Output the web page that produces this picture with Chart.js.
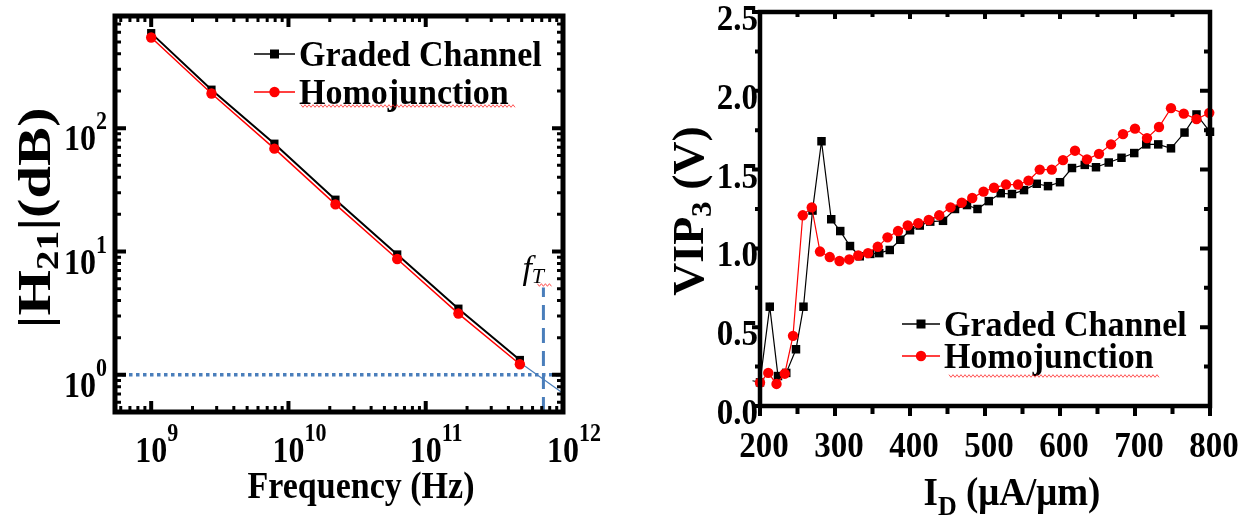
<!DOCTYPE html>
<html>
<head>
<meta charset="utf-8">
<script src="https://cdn.jsdelivr.net/npm/chart.js@4.4.0/dist/chart.umd.min.js"></script>
<style>
  html, body { margin: 0; padding: 0; background: #fff; }
  #wrap { position: relative; width: 1251px; height: 519px; overflow: hidden; }
  canvas { position: absolute; top: 0; }
  #gain { left: 0; }
  #vip { left: 625px; }
</style>
</head>
<body>
<div id="wrap">
  <canvas id="gain" width="625" height="519"></canvas>
  <canvas id="vip" width="626" height="519"></canvas>
</div>
<script>
// ---- left panel: |H21| vs frequency ----
const freqHz    = [1e9, 2.75e9, 7.9e9, 2.2e10, 6.2e10, 1.73e11, 4.85e11];
const h21Graded = [589, 205, 74.8, 26.3, 9.46, 3.44, 1.32];
const h21Homo   = [543, 191, 68.2, 24.1, 8.69, 3.14, 1.22];
const fitFreq   = [4.85e11, 1e12];      // extrapolation to unity gain
const fitH21    = [1.26, 0.71];
const fT        = 7.2e11;
const fTLineTop = 5.1;
const freqExponents = [9, 10, 11, 12];
const h21Exponents  = [0, 1, 2];

// ---- right panel: VIP3 vs drain current ----
const idGraded  = [190, 200, 213, 224, 235, 248, 258, 270, 282, 295, 307, 320, 333, 347, 359, 373, 387,
                   400, 413, 427, 444, 460, 476, 490, 505, 521, 536, 552, 569, 584, 600, 616, 633, 648,
                   665, 682, 699, 715, 731, 748, 766, 782, 800];
const vipGraded = [0.16, 0.15, 0.63, 0.19, 0.21, 0.36, 0.63, 1.24, 1.68, 1.185, 1.11, 1.015, 0.95, 0.965,
                   0.97, 0.99, 1.055, 1.115, 1.145, 1.17, 1.175, 1.25, 1.275, 1.25, 1.30, 1.35, 1.345,
                   1.37, 1.41, 1.395, 1.42, 1.51, 1.53, 1.515, 1.545, 1.575, 1.605, 1.66, 1.66, 1.635,
                   1.735, 1.85, 1.74];
const idHomo    = [200, 211, 222, 233, 244, 257, 269, 280, 293, 306, 319, 331, 344, 357, 370, 384, 397,
                   411, 425, 439, 454, 469, 483, 498, 512, 528, 544, 558, 573, 589, 604, 620, 636, 652,
                   668, 684, 700, 716, 732, 748, 765, 782, 799];
const vipHomo   = [0.148, 0.21, 0.14, 0.205, 0.445, 1.21, 1.26, 0.98, 0.945, 0.92, 0.93, 0.955, 0.97,
                   1.01, 1.07, 1.11, 1.145, 1.16, 1.18, 1.21, 1.26, 1.29, 1.32, 1.36, 1.385, 1.405,
                   1.405, 1.43, 1.50, 1.50, 1.56, 1.62, 1.565, 1.60, 1.66, 1.725, 1.76, 1.70, 1.77,
                   1.89, 1.855, 1.82, 1.86];
const idTicks  = [200, 300, 400, 500, 600, 700, 800];
const vipTicks = ['0.0', '0.5', '1.0', '1.5', '2.0', '2.5'];

const seriesNames = ['Graded Channel', 'Homojunction'];

const SERIF = '"Liberation Serif", "Times New Roman", serif';
const BLUE = '#4a7ebb';
const RED = '#ff0000';

function pts(xs, ys) { return xs.map((x, i) => ({ x: x, y: ys[i] })); }

// draws a run of text pieces (for sub/superscripts)
function richText(ctx, parts, x, y, opt) {
  opt = opt || {};
  ctx.save();
  ctx.translate(x, y);
  if (opt.rotate) ctx.rotate(opt.rotate);
  ctx.scale(opt.sx || 1, opt.sy || 1);
  ctx.textAlign = 'left';
  ctx.textBaseline = 'alphabetic';
  ctx.fillStyle = opt.color || '#000';
  let w = 0;
  parts.forEach(p => {
    ctx.font = (p.style || 'bold') + ' ' + p.size + 'px ' + SERIF;
    w += ctx.measureText(p.t).width;
  });
  let cx = opt.align === 'center' ? -w / 2 : opt.align === 'right' ? -w : 0;
  parts.forEach(p => {
    ctx.font = (p.style || 'bold') + ' ' + p.size + 'px ' + SERIF;
    ctx.fillText(p.t, cx, p.dy || 0);
    cx += ctx.measureText(p.t).width;
  });
  ctx.restore();
}

function wavy(ctx, x0, x1, y) {
  ctx.save();
  ctx.strokeStyle = 'rgba(255,40,40,0.8)';
  ctx.lineWidth = 1;
  ctx.beginPath();
  for (let x = x0, k = 0; x <= x1; x += 2, k++) {
    const yy = y + (k % 2 ? 1.3 : -1.3);
    if (k === 0) ctx.moveTo(x, yy); else ctx.lineTo(x, yy);
  }
  ctx.stroke();
  ctx.restore();
}

function byLabel(chart, name) {
  return chart.data.datasets.find(d => d.label === name);
}

function legendRow(ctx, ds, x0, x1, y, text) {
  ctx.save();
  ctx.strokeStyle = ds.borderColor;
  ctx.lineWidth = 1.5;
  ctx.beginPath(); ctx.moveTo(x0, y); ctx.lineTo(x1, y); ctx.stroke();
  ctx.fillStyle = ds.backgroundColor;
  const cx = (x0 + x1) / 2;
  if (ds.pointStyle === 'rect') {
    ctx.fillRect(cx - 4.5, y - 4.5, 9, 9);
  } else {
    ctx.beginPath(); ctx.arc(cx, y, 5.2, 0, Math.PI * 2); ctx.fill();
  }
  ctx.restore();
  richText(ctx, [{ t: text, size: 34 }], x1 + 4, y + 12, { sy: 1.08 });
}

// ---------------- left chart ----------------
const gainDecor = {
  id: 'gainDecor',
  afterDraw(chart) {
    const ctx = chart.ctx;
    const a = chart.chartArea;
    const xs = chart.scales.x, ys = chart.scales.y;
    ctx.save();
    ctx.strokeStyle = '#000';
    ctx.lineWidth = 5;
    ctx.strokeRect(a.left, a.top, a.right - a.left, a.bottom - a.top);

    // log ticks, inward on all four sides
    function logTicks(scale, cb) {
      const lo = Math.floor(Math.log10(scale.min)), hi = Math.ceil(Math.log10(scale.max));
      for (let d = lo; d <= hi; d++) {
        for (let m = 1; m <= 9; m++) {
          const v = m * Math.pow(10, d);
          if (v < scale.min * 1.001 || v > scale.max * 0.999) continue;
          cb(scale.getPixelForValue(v), m === 1);
        }
      }
    }
    ctx.lineCap = 'butt';
    logTicks(xs, (px, major) => {
      const len = major ? 11 : 6;
      ctx.lineWidth = major ? 4 : 3;
      ctx.beginPath();
      ctx.moveTo(px, a.bottom); ctx.lineTo(px, a.bottom - len);
      ctx.moveTo(px, a.top); ctx.lineTo(px, a.top + len);
      ctx.stroke();
    });
    logTicks(ys, (py, major) => {
      const len = major ? 11 : 6;
      ctx.lineWidth = major ? 4 : 3;
      ctx.beginPath();
      ctx.moveTo(a.left, py); ctx.lineTo(a.left + len, py);
      ctx.moveTo(a.right, py); ctx.lineTo(a.right - len, py);
      ctx.stroke();
    });
    ctx.restore();

    // tick labels 10^n
    freqExponents.forEach(e => {
      const px = xs.getPixelForValue(Math.pow(10, e));
      ctx.save();
      ctx.font = 'bold 32px ' + SERIF;
      const w = ctx.measureText('10').width;
      ctx.restore();
      richText(ctx, [{ t: '10', size: 32 }, { t: String(e), size: 22, dy: -19 }],
        px - w / 2, a.bottom + 50, { sy: 1.1 });
    });
    h21Exponents.forEach(e => {
      const py = ys.getPixelForValue(Math.pow(10, e));
      richText(ctx, [{ t: '10', size: 32 }, { t: String(e), size: 22, dy: -19 }],
        a.left - 8, py + 22, { align: 'right', sy: 1.1 });
    });

    // axis titles
    richText(ctx, [{ t: 'Frequency (Hz)', size: 34 }], 361, 498, { align: 'center', sy: 1.1 });
    richText(ctx, [{ t: '|H', size: 46 }, { t: '21', size: 31, dy: 8 }, { t: '|(dB)', size: 46 }],
      50, 218, { align: 'center', rotate: -Math.PI / 2, sx: 1.27 });

    // f_T marker label
    const fx = xs.getPixelForValue(fT);
    richText(ctx, [{ t: 'f', size: 34, style: 'italic' }, { t: 'T', size: 22, style: 'italic', dy: 4 }],
      fx - 21, 279, {});
    wavy(ctx, fx - 6, fx + 9, 285);

    // legend
    legendRow(ctx, byLabel(chart, seriesNames[0]), 254, 295, 54, seriesNames[0]);
    legendRow(ctx, byLabel(chart, seriesNames[1]), 254, 295, 92, seriesNames[1]);
    wavy(ctx, 301, 515, 106);
  }
};

new Chart(document.getElementById('gain'), {
  type: 'line',
  data: {
    datasets: [
      { label: seriesNames[1], data: pts(freqHz, h21Homo), borderColor: RED, backgroundColor: RED,
        borderWidth: 1.5, pointStyle: 'circle', pointRadius: 5.2, pointBorderWidth: 0 },
      { label: seriesNames[0], data: pts(freqHz, h21Graded), borderColor: '#000', backgroundColor: '#000',
        borderWidth: 2, pointStyle: 'rect', pointRadius: 5.8, pointBorderWidth: 0 },
      { label: 'fit', data: pts(fitFreq, fitH21), borderColor: BLUE, borderWidth: 1.2, pointRadius: 0 },
      { label: 'unity', data: [{ x: 5.45e8, y: 1 }, { x: 1e12, y: 1 }], borderColor: BLUE,
        borderWidth: 3.5, borderDash: [3.5, 3.5], pointRadius: 0 },
      { label: 'fT', data: [{ x: fT, y: 0.5 }, { x: fT, y: fTLineTop }], borderColor: BLUE,
        borderWidth: 3, borderDash: [15, 8], pointRadius: 0 }
    ]
  },
  options: {
    responsive: false,
    animation: false,
    devicePixelRatio: 1,
    layout: { padding: { left: 115, right: 62, top: 16, bottom: 107 } },
    plugins: { legend: { display: false }, tooltip: { enabled: false } },
    elements: { line: { tension: 0 } },
    scales: {
      x: { type: 'logarithmic', min: 5.45e8, max: 1e12, display: false },
      y: { type: 'logarithmic', min: 0.5, max: 811, display: false }
    }
  },
  plugins: [gainDecor]
});

// ---------------- right chart ----------------
const vipDecor = {
  id: 'vipDecor',
  afterDraw(chart) {
    const ctx = chart.ctx;
    const a = chart.chartArea;
    const xs = chart.scales.x, ys = chart.scales.y;
    ctx.save();
    ctx.strokeStyle = '#000';
    ctx.lineWidth = 4.5;
    ctx.strokeRect(a.left, a.top, a.right - a.left, a.bottom - a.top);
    ctx.lineCap = 'butt';
    // x ticks every 50: outward at bottom, inward at top
    for (let v = 200; v <= 800; v += 50) {
      const px = xs.getPixelForValue(v);
      const major = v % 100 === 0;
      ctx.lineWidth = 4;
      ctx.beginPath();
      ctx.moveTo(px, a.bottom); ctx.lineTo(px, a.bottom + (major ? 10 : 8));
      ctx.moveTo(px, a.top); ctx.lineTo(px, a.top + (major ? 7 : 5));
      ctx.stroke();
    }
    // y ticks every 0.25: outward left, inward right
    for (let k = 0; k <= 10; k++) {
      const v = k * 0.25;
      const py = ys.getPixelForValue(v);
      const major = k % 2 === 0;
      ctx.lineWidth = 4;
      ctx.beginPath();
      ctx.moveTo(a.left, py); ctx.lineTo(a.left - (major ? 8 : 5), py);
      ctx.moveTo(a.right, py); ctx.lineTo(a.right - (major ? 10 : 6), py);
      ctx.stroke();
    }
    ctx.restore();

    idTicks.forEach(v => {
      richText(ctx, [{ t: String(v), size: 33 }], xs.getPixelForValue(v) + 4, a.bottom + 51, { align: 'center', sy: 1.1 });
    });
    vipTicks.forEach(s => {
      richText(ctx, [{ t: s, size: 33 }], a.left - 2, ys.getPixelForValue(parseFloat(s)) + 18, { align: 'right', sy: 1.1 });
    });

    richText(ctx, [{ t: 'I', size: 37 }, { t: 'D', size: 26, dy: 9 }, { t: ' (\u03bcA/\u03bcm)', size: 37 }],
      1012 - 625, 505, { align: 'center', sy: 1.08 });
    richText(ctx, [{ t: 'VIP', size: 44 }, { t: '3', size: 30, dy: 8 }, { t: ' (V)', size: 44 }],
      703 - 625, 211, { align: 'center', rotate: -Math.PI / 2, sx: 1.04 });

    legendRow(ctx, byLabel(chart, seriesNames[0]), 902 - 625, 940 - 625, 324, seriesNames[0]);
    legendRow(ctx, byLabel(chart, seriesNames[1]), 902 - 625, 940 - 625, 356, seriesNames[1]);
    wavy(ctx, 949 - 625, 1159 - 625, 376);
  }
};

new Chart(document.getElementById('vip'), {
  type: 'line',
  data: {
    datasets: [
      { label: seriesNames[1], data: pts(idHomo, vipHomo), borderColor: RED, backgroundColor: RED,
        borderWidth: 1.2, pointStyle: 'circle', pointRadius: 5.2, pointBorderWidth: 0, clip: false },
      { label: seriesNames[0], data: pts(idGraded, vipGraded), borderColor: '#000', backgroundColor: '#000',
        borderWidth: 1.2, pointStyle: 'rect', pointRadius: 6, pointBorderWidth: 0, clip: false }
    ]
  },
  options: {
    responsive: false,
    animation: false,
    devicePixelRatio: 1,
    layout: { padding: { left: 135, right: 41, top: 12, bottom: 113 } },
    plugins: { legend: { display: false }, tooltip: { enabled: false } },
    elements: { line: { tension: 0 } },
    scales: {
      x: { type: 'linear', min: 200, max: 800, display: false },
      y: { type: 'linear', min: 0, max: 2.5, display: false }
    }
  },
  plugins: [vipDecor]
});
</script>
</body>
</html>
